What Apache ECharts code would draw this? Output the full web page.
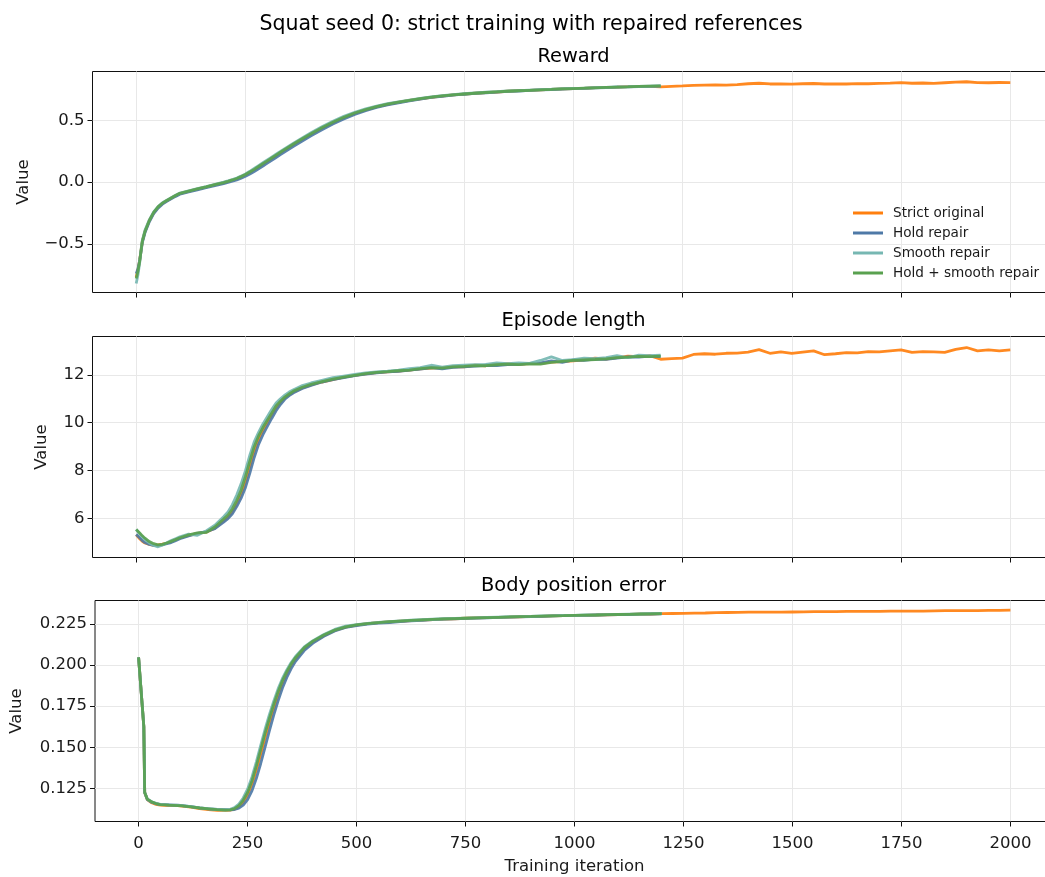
<!DOCTYPE html>
<html><head><meta charset="utf-8">
<script src="https://cdn.jsdelivr.net/npm/echarts@6/dist/echarts.min.js"></script>
<style>html,body{margin:0;padding:0;background:#fff;width:1045px;height:877px;overflow:hidden}#c{width:1060px;height:877px}</style>
</head><body><div id="c"></div><script>
// ---- iterations ----
const iters = [0,4,8,12,14,20,30,40,50,60,70,80,90,100,120,140,160,180,200,210,220,230,240,250,260,270,280,290,300,310,320,330,340,350,360,380,400,425,450,475,500,525,550,575,600,625,650,675,700,725,750,775,800,825,850,875,900,925,950,975,1000,1025,1050,1075,1100,1125,1150,1175,1200];
const itersTail = [1225,1250,1275,1300,1325,1350,1375,1400,1425,1450,1475,1500,1525,1550,1575,1600,1625,1650,1675,1700,1725,1750,1775,1800,1825,1850,1875,1900,1925,1950,1975,2000];

// ---- Reward ----
const rewardStrict = [-0.77,-0.71,-0.63,-0.53,-0.48,-0.40,-0.312,-0.248,-0.203,-0.172,-0.15,-0.13,-0.11,-0.092,
-0.074,-0.057,-0.04,-0.022,-0.005,
0.005,0.016,0.028,0.043,0.06,0.079,0.1,0.122,0.145,0.168,0.191,0.214,0.237,0.26,0.282,0.304,
0.346,0.387,0.436,0.481,0.521,0.557,
0.586,0.61,0.63,0.647,0.662,0.675,0.687,0.697,0.706,0.713,0.72,0.725,0.73,0.736,0.741,0.744,0.747,0.752,0.756,0.758,0.76,0.765,0.768,0.77,0.773,0.775,0.776,0.772,
0.776,0.779,0.783,0.785,0.787,0.786,0.79,0.797,0.801,0.795,0.796,0.794,0.797,0.799,0.795,0.796,0.795,0.798,0.797,0.8,0.802,0.806,0.801,0.803,0.8,0.805,0.81,0.813,0.806,0.805,0.807,0.806];
const rewardHold = [-0.74,-0.70,-0.63,-0.54,-0.49,-0.41,-0.32,-0.255,-0.21,-0.178,-0.155,-0.135,-0.115,-0.097,
-0.079,-0.062,-0.045,-0.028,-0.012,
-0.002,0.008,0.019,0.033,0.049,0.067,0.087,0.109,0.131,0.154,0.177,0.2,0.223,0.246,0.268,0.29,
0.333,0.376,0.425,0.471,0.512,0.549,
0.579,0.605,0.626,0.643,0.659,0.673,0.686,0.695,0.704,0.712,0.719,0.724,0.729,0.735,0.738,0.743,0.747,0.75,0.754,0.757,0.76,0.763,0.766,0.769,0.771,0.774,0.776,0.778];
const rewardSmooth = [-0.82,-0.75,-0.65,-0.52,-0.47,-0.39,-0.305,-0.24,-0.197,-0.167,-0.146,-0.126,-0.106,-0.088,
-0.07,-0.053,-0.036,-0.018,0.0,
0.01,0.021,0.034,0.049,0.067,0.088,0.111,0.134,0.157,0.18,0.203,0.226,0.249,0.272,0.294,0.316,
0.359,0.401,0.449,0.494,0.533,0.566,
0.593,0.616,0.635,0.651,0.665,0.679,0.69,0.7,0.708,0.716,0.722,0.728,0.733,0.738,0.742,0.746,0.75,0.753,0.757,0.76,0.762,0.765,0.768,0.771,0.773,0.776,0.778,0.78];
const rewardBoth = [-0.78,-0.72,-0.64,-0.53,-0.48,-0.40,-0.31,-0.245,-0.20,-0.17,-0.148,-0.128,-0.108,-0.09,
-0.072,-0.055,-0.038,-0.02,-0.003,
0.007,0.018,0.03,0.045,0.062,0.082,0.104,0.127,0.15,0.173,0.196,0.219,0.242,0.265,0.287,0.309,
0.351,0.392,0.44,0.485,0.525,0.56,
0.588,0.612,0.632,0.648,0.663,0.676,0.688,0.698,0.706,0.714,0.72,0.726,0.731,0.736,0.74,0.744,0.748,0.751,0.755,0.758,0.761,0.764,0.767,0.77,0.772,0.775,0.777,0.779];

// ---- Episode length ----
const lengthStrict = [5.32,5.25,5.16,5.08,5.05,4.98,4.92,4.88,4.9,4.93,4.98,5.04,5.12,5.19,
5.3,5.38,5.43,5.6,5.9,
6.05,6.28,6.6,7.0,7.5,8.15,8.8,9.3,9.68,10.0,10.3,10.6,10.85,11.03,11.17,11.28,
11.45,11.58,11.7,11.8,11.9,11.98,
12.04,12.09,12.12,12.16,12.2,12.25,12.28,12.3,12.34,12.33,12.4,12.38,12.43,12.46,12.44,12.47,12.48,12.53,12.55,12.58,12.63,12.7,12.66,12.72,12.78,12.76,12.8,12.65,
12.68,12.7,12.85,12.88,12.86,12.9,12.91,12.95,13.05,12.9,12.96,12.9,12.95,13.0,12.84,12.88,12.93,12.92,12.97,12.96,13.0,13.04,12.94,12.97,12.96,12.94,13.06,13.14,13.0,13.04,13.0,13.04];
const lengthHold = [5.34,5.28,5.2,5.12,5.08,5.0,4.92,4.88,4.87,4.9,4.95,5.0,5.08,5.16,
5.28,5.38,5.45,5.58,5.85,
6.0,6.2,6.5,6.85,7.3,7.9,8.55,9.1,9.5,9.85,10.18,10.5,10.76,10.98,11.13,11.25,
11.43,11.56,11.7,11.8,11.88,11.97,
12.03,12.08,12.12,12.15,12.2,12.24,12.3,12.25,12.31,12.33,12.36,12.4,12.39,12.43,12.44,12.48,12.5,12.58,12.52,12.62,12.6,12.66,12.65,12.7,12.75,12.74,12.78,12.76];
const lengthSmooth = [5.55,5.45,5.37,5.28,5.22,5.12,4.98,4.88,4.82,4.9,4.99,5.08,5.16,5.24,
5.35,5.3,5.48,5.72,6.08,
6.28,6.58,6.98,7.45,8.0,8.65,9.2,9.6,9.95,10.25,10.55,10.82,11.0,11.15,11.28,11.38,
11.55,11.66,11.77,11.88,11.95,12.02,
12.08,12.12,12.15,12.2,12.26,12.3,12.4,12.32,12.38,12.4,12.42,12.44,12.5,12.47,12.5,12.48,12.6,12.75,12.6,12.63,12.7,12.68,12.72,12.8,12.72,12.82,12.8,12.82];
const lengthBoth = [5.54,5.47,5.4,5.32,5.28,5.18,5.04,4.95,4.9,4.92,4.98,5.05,5.12,5.2,
5.32,5.4,5.42,5.65,5.98,
6.15,6.4,6.75,7.18,7.75,8.4,9.0,9.45,9.8,10.1,10.4,10.7,10.9,11.07,11.2,11.32,
11.48,11.6,11.72,11.82,11.9,11.98,
12.05,12.1,12.13,12.17,12.2,12.26,12.3,12.28,12.33,12.35,12.38,12.38,12.42,12.45,12.43,12.46,12.45,12.52,12.56,12.6,12.62,12.64,12.67,12.72,12.74,12.77,12.76,12.78];

// ---- Body position error ----
const errorStrict = [0.2047,0.1905,0.1765,0.1625,0.1225,0.1182,0.1163,0.1153,0.1148,0.1147,0.1146,0.1146,0.1145,0.1143,
0.1136,0.1128,0.1121,0.1117,0.1116,
0.1118,0.1124,0.1138,0.1165,0.121,0.1275,0.136,0.1455,0.1555,0.1648,0.1735,0.1815,0.1885,0.1945,0.1995,0.2035,
0.2098,0.214,0.2178,0.221,0.223,0.2242,
0.2251,0.2257,0.2262,0.2266,0.227,0.2273,0.2276,0.2279,0.2281,0.2284,0.2286,0.2288,0.229,0.2291,0.2293,0.2295,0.2296,0.2298,0.23,0.2301,0.2302,0.2304,0.2305,0.2306,0.2308,0.2309,0.231,0.2312,
0.2313,0.2314,0.2315,0.2316,0.2318,0.2319,0.232,0.2321,0.2321,0.2321,0.2321,0.2322,0.2323,0.2324,0.2325,0.2325,0.2326,0.2326,0.2326,0.2326,0.2327,0.2327,0.2327,0.2328,0.2329,0.233,0.233,0.2331,0.2331,0.2332,0.2332,0.2333];
const errorHold = [0.2047,0.1905,0.1765,0.1625,0.1225,0.1183,0.1166,0.1157,0.1152,0.1151,0.115,0.1149,0.1148,0.1145,
0.1139,0.1132,0.1126,0.1122,0.1121,
0.112,0.1122,0.113,0.1148,0.1182,0.1235,0.131,0.14,0.15,0.16,0.1695,0.1782,0.186,0.1925,0.1978,0.2022,
0.2088,0.2133,0.2175,0.2207,0.2228,0.224,
0.2248,0.2255,0.2258,0.2264,0.2269,0.2272,0.2276,0.2279,0.228,0.2283,0.2285,0.2287,0.2289,0.2291,0.2293,0.2294,0.2296,0.2298,0.23,0.2301,0.2302,0.2304,0.2305,0.2306,0.2307,0.2309,0.231,0.2311];
const errorSmooth = [0.2047,0.1905,0.1765,0.1625,0.1225,0.1186,0.1169,0.1159,0.1153,0.1151,0.1149,0.1148,0.1147,0.1145,
0.1139,0.1132,0.1127,0.1122,0.1119,
0.1123,0.1133,0.1155,0.1192,0.1245,0.1318,0.141,0.151,0.1608,0.1698,0.178,0.1855,0.1918,0.197,0.2015,0.2052,
0.211,0.2148,0.2185,0.2216,0.2236,0.2246,
0.2253,0.2259,0.2264,0.2268,0.2272,0.2275,0.2278,0.2281,0.2283,0.2285,0.2287,0.2289,0.2291,0.2293,0.2294,0.2296,0.2298,0.2299,0.2301,0.2302,0.2304,0.2305,0.2306,0.2308,0.2309,0.231,0.2312,0.2313];
const errorBoth = [0.2047,0.1905,0.1765,0.1625,0.1225,0.1185,0.1168,0.1158,0.1152,0.115,0.1148,0.1147,0.1146,0.1144,
0.1138,0.1131,0.1126,0.1121,0.1118,
0.112,0.1127,0.1145,0.1178,0.1225,0.1295,0.1385,0.1485,0.1585,0.1675,0.176,0.1838,0.1905,0.196,0.2007,0.2045,
0.2105,0.2145,0.2182,0.2212,0.2232,0.2244,
0.2252,0.2258,0.2263,0.2267,0.2271,0.2274,0.2277,0.228,0.2282,0.2284,0.2286,0.2288,0.229,0.2292,0.2294,0.2295,0.2297,0.2299,0.23,0.2302,0.2303,0.2304,0.2306,0.2307,0.2308,0.231,0.2311,0.2312];

// ---- ticks & labels ----
const xTicks = [0,250,500,750,1000,1250,1500,1750,2000];
const rewardTicks = [-0.5,0,0.5];
const lengthTicks = [6,8,10,12];
const errorTicks = [0.125,0.15,0.175,0.2,0.225];
const seriesNames = ['Strict original','Hold repair','Smooth repair','Hold + smooth repair'];
const seriesColors = ['#ff7f0e','#4e79a7','#76b7b2','#59a14f'];
const panelTitles = ['Reward','Episode length','Body position error'];
const suptitle = 'Squat seed 0: strict training with repaired references';

const FONT = 'DejaVu Sans';
const TXT = '#1a1a1a';
const itersFull = iters.concat(itersTail);
const pairs = (xs, ys) => xs.map((x, i) => [x, ys[i]]);

// canvas is 1060 wide; the page clips it at 1045 so the right spine falls outside, as in the reference
const tops = [71.5, 336.5, 600.5];
const H = 221;
const grid = tops.map(t => ({left: 92.5, right: 6, top: t, height: H, show: true,
  borderColor: '#111', borderWidth: 1, backgroundColor: 'rgba(0,0,0,0)'}));

const xAxis = [0,1,2].map(i => ({
  type: 'value', gridIndex: i, min: -100, max: 2100,
  axisLine: {show: false, onZero: false},
  axisTick: {show: true, customValues: xTicks, length: 5, lineStyle: {color: '#111', width: 1}},
  axisLabel: {show: i === 2, customValues: xTicks, formatter: v => String(v), fontSize: 16.5, fontFamily: FONT, color: TXT, margin: 14},
  splitLine: {show: true, lineStyle: {color: '#e8e8e8', width: 1}},
  name: i === 2 ? 'Training iteration' : '', nameLocation: 'middle', nameGap: 37,
  nameTextStyle: {fontSize: 16.5, fontFamily: FONT, color: TXT}
}));

const yRanges = [[-0.893, 0.896], [4.375, 13.6], [0.1049, 0.2392]];
const yTicks = [rewardTicks, lengthTicks, errorTicks];
const yFmt = [
  v => (v < 0 ? '\u2212' : '') + Math.abs(v).toFixed(1),
  v => String(v),
  v => v.toFixed(3)
];
const yGaps = [60, 42, 70];
const yAxis = [0,1,2].map(i => ({
  type: 'value', gridIndex: i, min: yRanges[i][0], max: yRanges[i][1],
  axisLine: {show: false, onZero: false},
  axisTick: {show: true, customValues: yTicks[i], length: 5, lineStyle: {color: '#111', width: 1}},
  axisLabel: {show: true, customValues: yTicks[i], formatter: yFmt[i], fontSize: 16.5, fontFamily: FONT, color: TXT, margin: 8},
  splitLine: {show: true, lineStyle: {color: '#e8e8e8', width: 1}},
  name: 'Value', nameLocation: 'middle', nameGap: yGaps[i], nameRotate: 90,
  nameTextStyle: {fontSize: 16.5, fontFamily: FONT, color: TXT}
}));

const panelData = [
  [rewardStrict, rewardHold, rewardSmooth, rewardBoth],
  [lengthStrict, lengthHold, lengthSmooth, lengthBoth],
  [errorStrict, errorHold, errorSmooth, errorBoth]
];
const series = [];
panelData.forEach((arrs, p) => {
  arrs.forEach((ys, k) => {
    const xs = k === 0 ? itersFull : iters;
    series.push({
      type: 'line', name: seriesNames[k], xAxisIndex: p, yAxisIndex: p,
      data: pairs(xs, ys), showSymbol: false, symbol: 'none', smooth: false,
      color: seriesColors[k],
      lineStyle: {color: seriesColors[k], width: 2.8, opacity: 0.92},
      itemStyle: {color: seriesColors[k]},
      z: 2 + k, animation: false
    });
  });
});

const titleY = [57, 321, 586];
const graphic = [{type: 'text', x: 531, y: 25, style: {text: suptitle, fontSize: 20.5, fontFamily: FONT, fill: '#000', align: 'center', verticalAlign: 'middle'}}]
  .concat(panelTitles.map((t, i) => ({type: 'text', x: 573.5, y: titleY[i],
    style: {text: t, fontSize: 19.4, fontFamily: FONT, fill: '#000', align: 'center', verticalAlign: 'middle'}})));

const chart = echarts.init(document.getElementById('c'), null, {renderer: 'canvas'});
chart.setOption({
  animation: false,
  backgroundColor: '#fff',
  grid, xAxis, yAxis, series, graphic,
  legend: {
    data: seriesNames, orient: 'vertical', left: 848, top: 201,
    itemWidth: 30, itemHeight: 3, itemGap: 6, icon: 'rect',
    textStyle: {fontSize: 13.6, fontFamily: FONT, color: TXT, padding: [0, 0, 0, 5]}
  }
});
</script></body></html>
